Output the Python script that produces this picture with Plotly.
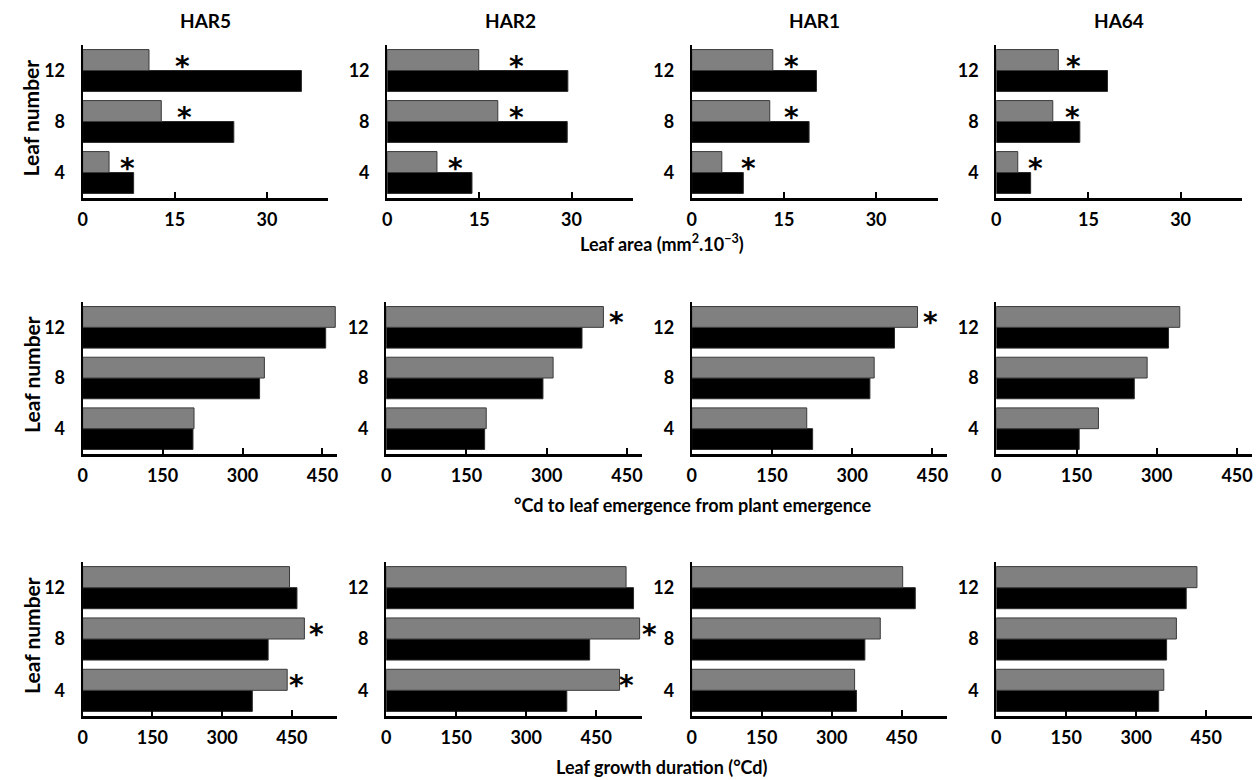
import plotly.graph_objects as go

cultivars = ["HAR5", "HAR2", "HAR1", "HA64"]
leaves = ["4", "8", "12"]

# Row 1: leaf area (mm2.10^-3)  [gray, black] per cultivar, leaves 4, 8, 12
area_gray = {"HAR5": [4.3, 12.8, 10.8], "HAR2": [8.1, 18.0, 14.9], "HAR1": [4.9, 12.7, 13.2], "HA64": [3.5, 9.2, 10.1]}
area_black = {"HAR5": [8.3, 24.6, 35.6], "HAR2": [13.8, 29.3, 29.4], "HAR1": [8.4, 19.1, 20.3], "HA64": [5.6, 13.6, 18.1]}

# Row 2: degree-days to leaf emergence from plant emergence
emerg_gray = {"HAR5": [209, 341, 474], "HAR2": [187, 312, 406], "HAR1": [215, 341, 422], "HA64": [191, 282, 343]}
emerg_black = {"HAR5": [207, 332, 456], "HAR2": [184, 293, 366], "HAR1": [226, 333, 379], "HA64": [155, 258, 322]}

# Row 3: leaf growth duration (degree-days)
dur_gray = {"HAR5": [440, 477, 445], "HAR2": [500, 543, 514], "HAR1": [349, 404, 452], "HA64": [359, 386, 430]}
dur_black = {"HAR5": [365, 399, 461], "HAR2": [387, 436, 530], "HAR1": [353, 371, 479], "HA64": [348, 365, 407]}

# significance asterisks: (row, cultivar, leaf index, x position)
stars = [
    (0, "HAR5", 2, 16.3), (0, "HAR5", 1, 16.6), (0, "HAR5", 0, 7.3),
    (0, "HAR2", 2, 21.1), (0, "HAR2", 1, 21.1), (0, "HAR2", 0, 11.2),
    (0, "HAR1", 2, 16.3), (0, "HAR1", 1, 16.3), (0, "HAR1", 0, 9.2),
    (0, "HA64", 2, 12.5), (0, "HA64", 1, 12.4), (0, "HA64", 0, 6.4),
    (1, "HAR2", 2, 431), (1, "HAR1", 2, 447),
    (2, "HAR5", 1, 502), (2, "HAR5", 0, 461),
    (2, "HAR2", 1, 565), (2, "HAR2", 0, 514),
]

row_titles = ["Leaf area (mm<sup>2</sup>.10<sup>\u22123</sup>)",
              "\u00b0Cd to leaf emergence from plant emergence",
              "Leaf growth duration (\u00b0Cd)"]
x_ticks = [[0, 15, 30], [0, 150, 300, 450], [0, 150, 300, 450]]
x_ranges = [[0, 40], [0, 478], [0, 548]]

W, H = 1257, 780
FONT = "Lato"
row_px = [(45, 198), (302, 454), (562, 716)]
col_px = [
    [(78, 325), (384, 631), (690, 937), (996, 1243)],
    [(78, 334), (383, 640), (690, 947), (996, 1253)],
    [(78, 334), (383, 640), (690, 947), (996, 1253)],
]

data_rows = [(area_gray, area_black), (emerg_gray, emerg_black), (dur_gray, dur_black)]
tickfont = dict(family=FONT, size=18, color="black", weight="bold")

fig = go.Figure()
layout = {}
annotations = []
for r in range(3):
    gray, black = data_rows[r]
    y0, y1 = row_px[r]
    for c, cv in enumerate(cultivars):
        k = r * 4 + c + 1
        xs = "" if k == 1 else str(k)
        fig.add_trace(go.Bar(y=leaves, x=black[cv], orientation="h", xaxis="x" + xs, yaxis="y" + xs,
                             marker=dict(color="#000000", line=dict(color="#2a2a2a", width=1)),
                             showlegend=False))
        fig.add_trace(go.Bar(y=leaves, x=gray[cv], orientation="h", xaxis="x" + xs, yaxis="y" + xs,
                             marker=dict(color="#808080", line=dict(color="#3a3a3a", width=1)),
                             showlegend=False))
        x0, x1 = col_px[r][c]
        layout["xaxis" + xs] = dict(
            domain=[x0 / W, x1 / W], anchor="y" + xs, range=x_ranges[r],
            tickvals=x_ticks[r], ticktext=["<b>%d</b>" % v for v in x_ticks[r]],
            ticks="inside", ticklen=6, tickwidth=2, tickcolor="black", ticklabelstandoff=4,
            showline=True, linecolor="black", linewidth=2.5, showgrid=False, zeroline=False,
            tickfont=tickfont, fixedrange=True,
        )
        layout["yaxis" + xs] = dict(
            domain=[1 - y1 / H, 1 - y0 / H], anchor="x" + xs, type="category",
            categoryorder="array", categoryarray=leaves, range=[-0.5, 2.5],
            tickvals=leaves, ticktext=["<b>%s</b>" % v for v in leaves],
            showline=True, linecolor="black", linewidth=2, showgrid=False, zeroline=False,
            ticks="", ticklabelstandoff=12,
            tickfont=tickfont, fixedrange=True,
        )
        if r == 0:
            annotations.append(dict(text="<b>" + cv + "</b>", x=(x0 + x1) / 2 / W, y=1 - 20 / H,
                                    xref="paper", yref="paper", showarrow=False,
                                    xanchor="center", yanchor="middle",
                                    font=dict(family=FONT, size=19, color="black")))

for (r, cv, li, xv) in stars:
    k = r * 4 + cultivars.index(cv) + 1
    xs = "" if k == 1 else str(k)
    annotations.append(dict(text="<b>*</b>", x=xv / x_ranges[r][1], y=(li + 0.705) / 3,
                            xref="x" + xs + " domain", yref="y" + xs + " domain",
                            showarrow=False, yshift=-6, xanchor="center", yanchor="middle",
                            font=dict(family="DejaVu Sans", size=28, color="black")))

title_y = [243, 505, None]
title_x = [660, 691, 660]
for r in range(3):
    if title_y[r] is None:
        ann = dict(y=0, yanchor="bottom")
    else:
        ann = dict(y=1 - title_y[r] / H, yanchor="middle")
    annotations.append(dict(text="<b>" + row_titles[r] + "</b>", x=title_x[r] / W,
                            xref="paper", yref="paper", showarrow=False, xanchor="center",
                            font=dict(family=FONT, size=18, color="black"), **ann))
    ym = (row_px[r][0] + row_px[r][1]) / 2 - 4
    annotations.append(dict(text="<b>Leaf number</b>", x=26 / W, y=1 - ym / H, textangle=-90,
                            xref="paper", yref="paper", showarrow=False,
                            xanchor="center", yanchor="middle",
                            font=dict(family=FONT, size=21, color="black")))

fig.update_layout(
    width=W, height=H, margin=dict(l=0, r=0, t=0, b=0),
    paper_bgcolor="white", plot_bgcolor="white",
    barmode="group", bargap=0.18, bargroupgap=0,
    annotations=annotations, **layout,
)
fig.write_html("out.html")
